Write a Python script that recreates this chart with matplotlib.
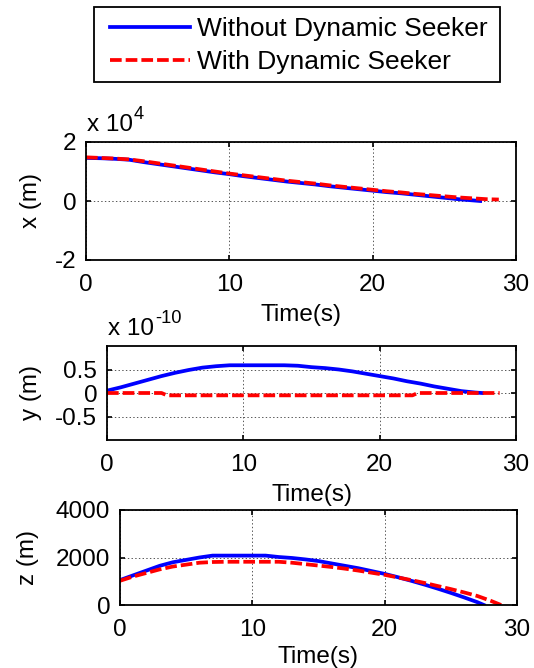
import matplotlib
matplotlib.use("Agg")
import matplotlib.pyplot as plt
from matplotlib.patches import Rectangle
from matplotlib.transforms import offset_copy

# ---------------- data ----------------
series_labels = ["Without Dynamic Seeker", "With Dynamic Seeker"]

t_without = [0, 1, 2, 3, 4, 5, 6, 7, 8, 9, 10, 11, 12, 13, 14, 15, 16, 17, 18, 19,
             20, 21, 22, 23, 24, 25, 26, 27, 27.5]
t_with = [0, 1, 2, 3, 4, 5, 6, 7, 8, 9, 10, 11, 12, 13, 14, 15, 16, 17, 18, 19,
          20, 21, 22, 23, 24, 25, 26, 27, 28, 28.8]

x_without = [14600, 14500, 14300, 14000, 13200, 12500, 11800, 11100, 10400, 9700,
             9100, 8400, 7800, 7200, 6600, 6100, 5600, 5000, 4500, 4000,
             3500, 3000, 2600, 2100, 1600, 1100, 600, 200, 0]
x_with = [14800, 14600, 14400, 14100, 13500, 12800, 12100, 11400, 10700, 10000,
          9300, 8700, 8100, 7500, 6900, 6400, 5900, 5300, 4800, 4300,
          3800, 3300, 2900, 2400, 2000, 1600, 1200, 900, 600, 500]

y_without = [0.05, 0.12, 0.20, 0.28, 0.36, 0.43, 0.49, 0.54, 0.57, 0.59,
             0.59, 0.59, 0.59, 0.59, 0.58, 0.55, 0.53, 0.50, 0.46, 0.41,
             0.36, 0.31, 0.25, 0.20, 0.14, 0.09, 0.04, 0.01, 0.0]
t_y_with = [0, 4, 4.4, 22.4, 22.8, 28.8]
y_with = [0.0, 0.0, -0.05, -0.05, 0.0, 0.0]

z_without = [1050, 1250, 1450, 1650, 1800, 1900, 2000, 2080, 2080, 2080,
             2080, 2080, 2020, 1980, 1920, 1850, 1750, 1650, 1550, 1430,
             1310, 1170, 1020, 860, 690, 510, 320, 120, 0]
z_with = [1020, 1200, 1350, 1500, 1620, 1700, 1780, 1810, 1820, 1820,
          1820, 1820, 1820, 1780, 1720, 1660, 1600, 1530, 1450, 1360,
          1270, 1160, 1050, 930, 800, 670, 530, 380, 180, 0]

x_scale_exp = "4"
y_scale_exp = "-10"
time_ticks = [0, 10, 20, 30]
x_ticks = [-2, 0, 2]
x_tick_labels = ['-2', '0', '2']
y_ticks = [-0.5, 0, 0.5]
y_tick_labels = ['-0.5', '0', '0.5']
z_ticks = [0, 2000, 4000]

# ---------------- style ----------------
plt.rcParams['font.family'] = ['Liberation Sans', 'DejaVu Sans']
plt.rcParams['lines.scale_dashes'] = False

FS = 17.5
BLUE = '#0000ff'
RED = '#ff0000'
LW = 2.7
DASH = (8.4, 2.9)

W, H = 534, 668
fig = plt.figure(figsize=(W / 100, H / 100), dpi=100)


def px_axes(l, t, r, b):
    return fig.add_axes([l / W, 1 - b / H, (r - l) / W, (b - t) / H])


def style(ax, yticks, ylim, ylabel, label_x, labelpad):
    ax.set_xlim(0, 30)
    ax.set_xticks(time_ticks)
    ax.set_ylim(*ylim)
    ax.set_yticks(yticks)
    ax.grid(True, color='#555555', linestyle=':', linewidth=0.7)
    ax.tick_params(direction='in', top=True, right=True, length=3.5, width=1.2,
                   labelsize=FS, pad=7)
    ax.tick_params(axis='x', pad=10)
    for s in ax.spines.values():
        s.set_linewidth(1.3)
    ax.set_xlabel('Time(s)', fontsize=FS, labelpad=labelpad)
    ax.set_ylabel(ylabel, fontsize=FS)
    ax.yaxis.label.set_va('center')
    ax.yaxis.set_label_coords(label_x, 0.5)


ax1 = px_axes(86, 142, 516, 260)
ax2 = px_axes(107, 346, 516, 440)
ax3 = px_axes(120, 510, 517, 605)

f1 = 10 ** int(x_scale_exp)
ax1.plot(t_without, [v / f1 for v in x_without], color=BLUE, lw=LW)
ax1.plot(t_with, [v / f1 for v in x_with], color=RED, lw=LW, dashes=DASH)

ax2.plot(t_without, y_without, color=BLUE, lw=LW)
ax2.plot(t_y_with, y_with, color=RED, lw=LW, dashes=DASH)

ax3.plot(t_without, z_without, color=BLUE, lw=LW)
ax3.plot(t_with, z_with, color=RED, lw=LW, dashes=DASH)

style(ax1, x_ticks, (-2, 2), 'x (m)', (31 - 86) / 430, 6)
style(ax2, y_ticks, (-1, 1), 'y (m)', (31 - 107) / 409, 6)
style(ax3, z_ticks, (0, 4000), 'z (m)', (28 - 120) / 397, 4)
ax1.set_yticklabels(x_tick_labels)
ax2.set_yticklabels(y_tick_labels)

# MATLAB-like exponent labels ("x 10" plus a raised exponent)
fig.canvas.draw()
renderer = fig.canvas.get_renderer()
for ax, exp in ((ax1, x_scale_exp), (ax2, y_scale_exp)):
    base = ax.text(0, 1, 'x 10', fontsize=FS, ha='left', va='baseline',
                   transform=offset_copy(ax.transAxes, fig=fig, x=1, y=11, units='dots'))
    bw = base.get_window_extent(renderer).width
    ax.text(0, 1, exp, fontsize=FS * 0.75, ha='left', va='baseline',
            transform=offset_copy(ax.transAxes, fig=fig, x=1 + bw + 1, y=23, units='dots'))

# legend
h_blue = plt.Line2D([], [], color=BLUE, lw=LW)
h_red = plt.Line2D([], [], color=RED, lw=LW, dashes=DASH)
fig.legend([h_blue, h_red], series_labels, loc='upper left',
           bbox_to_anchor=(110 / W, 1 - 17 / H), frameon=False, fontsize=19,
           borderpad=0, borderaxespad=0, handlelength=3.03, handletextpad=0.27,
           labelspacing=0.36)
fig.add_artist(Rectangle((94 / W, 1 - 82 / H), (500 - 94) / W, (82 - 7) / H,
                         transform=fig.transFigure, fill=False, edgecolor='black',
                         linewidth=1.3))

fig.savefig('out.png', dpi=100)
